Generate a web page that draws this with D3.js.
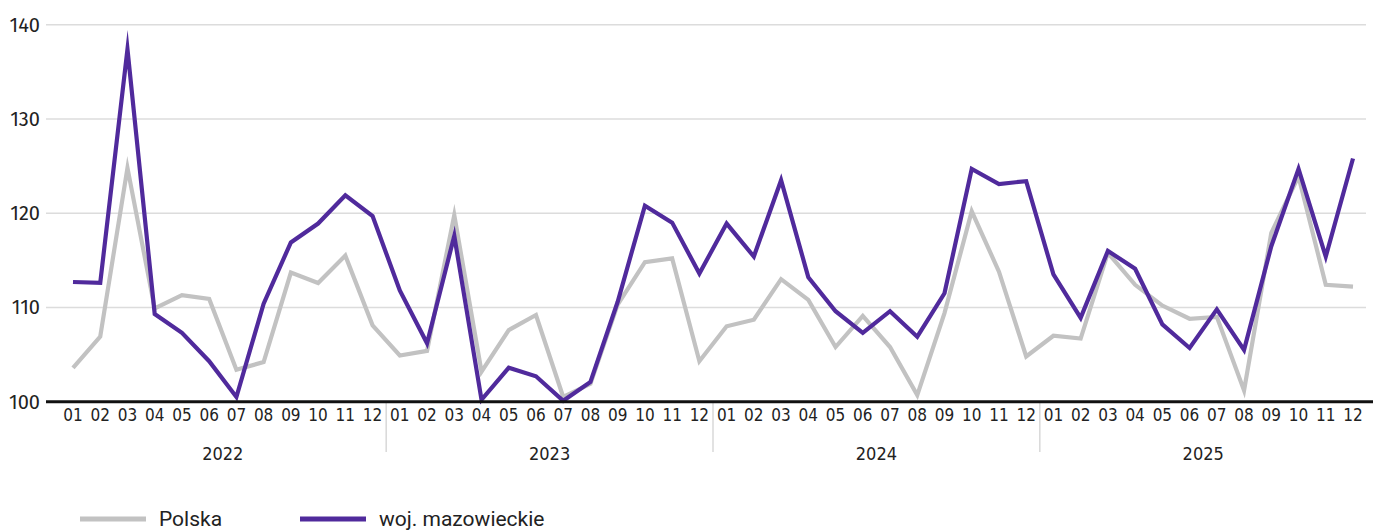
<!DOCTYPE html>
<html>
<head>
<meta charset="utf-8">
<script src="https://cdn.jsdelivr.net/npm/d3@7"></script>
<style>
  body { margin: 0; background: #fff; }
  svg { display: block; }
  .tick-y { font-family: "Fira Sans", Roboto, "Open Sans", sans-serif; font-size: 20px; fill: #222; }
  .month { font-family: "Liberation Sans Narrow", "DejaVu Sans Condensed", Roboto, sans-serif; font-size: 17px; fill: #222; }
  .year { font-family: "Liberation Sans Narrow", "DejaVu Sans Condensed", Roboto, sans-serif; font-size: 18px; fill: #222; }
  .legend { font-family: Roboto, "Open Sans", sans-serif; font-size: 21px; fill: #222; }
</style>
</head>
<body>
<div id="chart"></div>
<script>
const years = ["2022", "2023", "2024", "2025"];
const months = ["01", "02", "03", "04", "05", "06", "07", "08", "09", "10", "11", "12"];
const yTicks = [100, 110, 120, 130, 140];

const polska = [
  103.6, 106.9, 124.8, 109.9, 111.3, 110.9, 103.4, 104.2, 113.7, 112.6, 115.5, 108.1,
  104.9, 105.4, 119.8, 103.2, 107.6, 109.2, 100.5, 101.9, 110.3, 114.8, 115.2, 104.3,
  108.0, 108.7, 113.0, 110.8, 105.8, 109.1, 105.8, 100.7, 109.4, 120.2, 113.8, 104.8,
  107.0, 106.7, 115.8, 112.4, 110.2, 108.8, 109.0, 101.2, 117.9, 123.9, 112.4, 112.2
];
const mazowieckie = [
  112.7, 112.6, 137.4, 109.3, 107.3, 104.3, 100.5, 110.4, 116.9, 118.9, 121.9, 119.7,
  111.8, 106.2, 117.6, 100.2, 103.6, 102.7, 100.1, 102.1, 110.6, 120.8, 119.0, 113.6,
  118.9, 115.4, 123.5, 113.2, 109.6, 107.3, 109.6, 106.9, 111.5, 124.7, 123.1, 123.4,
  113.5, 108.9, 116.0, 114.1, 108.2, 105.7, 109.8, 105.5, 116.5, 124.7, 115.4, 125.8
];

const seriesNames = ["Polska", "woj. mazowieckie"];
const seriesColors = ["#c2c2c2", "#502a9c"];

const width = 1373, height = 532;
const svg = d3.select("#chart").append("svg")
  .attr("width", width)
  .attr("height", height);

const n = years.length * months.length;
const x = d3.scaleLinear().domain([0, n - 1]).range([73, 1353]);
const y = d3.scaleLinear().domain([100, 140]).range([401.7, 24.7]);

// grid lines
svg.append("g")
  .selectAll("line")
  .data(yTicks.filter(d => d !== 100))
  .join("line")
  .attr("x1", 46)
  .attr("x2", 1366)
  .attr("y1", d => y(d))
  .attr("y2", d => y(d))
  .attr("stroke", "#dcdcdc")
  .attr("stroke-width", 1.5);

// y tick labels
svg.append("g")
  .selectAll("text")
  .data(yTicks)
  .join("text")
  .attr("class", "tick-y")
  .attr("x", 40)
  .attr("y", d => y(d))
  .attr("dy", "0.35em")
  .attr("text-anchor", "end")
  .text(d => d);

// month labels
const monthData = d3.range(n).map(i => ({ i, m: months[i % 12] }));
svg.append("g")
  .selectAll("text")
  .data(monthData)
  .join("text")
  .attr("class", "month")
  .attr("x", d => x(d.i))
  .attr("y", 421)
  .attr("text-anchor", "middle")
  .text(d => d.m);

// year separators
svg.append("g")
  .selectAll("line")
  .data(years.slice(1))
  .join("line")
  .attr("x1", (d, i) => x((i + 1) * 12 - 0.5))
  .attr("x2", (d, i) => x((i + 1) * 12 - 0.5))
  .attr("y1", 403)
  .attr("y2", 452)
  .attr("stroke", "#d8d8d8")
  .attr("stroke-width", 1.5);

// year labels
svg.append("g")
  .selectAll("text")
  .data(years)
  .join("text")
  .attr("class", "year")
  .attr("x", (d, i) => x(i * 12 + 5.5))
  .attr("y", 460)
  .attr("text-anchor", "middle")
  .text(d => d);

// lines
const line = d3.line()
  .x((d, i) => x(i))
  .y(d => y(d));

[polska, mazowieckie].forEach((s, k) => {
  svg.append("path")
    .datum(s)
    .attr("fill", "none")
    .attr("stroke", seriesColors[k])
    .attr("stroke-width", 4.2)
    .attr("stroke-linejoin", "miter")
    .attr("stroke-miterlimit", 10)
    .attr("d", line);
});

// base axis line
svg.append("line")
  .attr("x1", 46)
  .attr("x2", width)
  .attr("y1", y(100))
  .attr("y2", y(100))
  .attr("stroke", "#111")
  .attr("stroke-width", 3);

// legend
const legend = svg.append("g")
  .selectAll("g")
  .data(seriesNames)
  .join("g")
  .attr("transform", (d, i) => `translate(${[80, 300][i]},519)`);

legend.append("line")
  .attr("x1", 0)
  .attr("x2", 66)
  .attr("stroke", (d, i) => seriesColors[i])
  .attr("stroke-width", 5);

legend.append("text")
  .attr("class", "legend")
  .attr("x", 79)
  .attr("dy", "0.33em")
  .text(d => d);
</script>
</body>
</html>
